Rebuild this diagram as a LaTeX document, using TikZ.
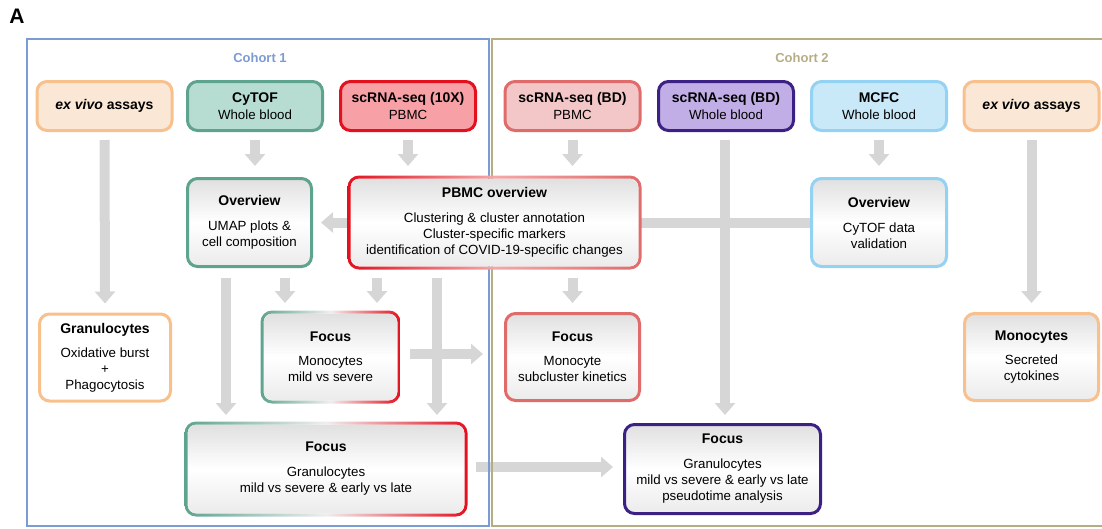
\documentclass[tikz,border=0pt]{standalone}
\usepackage{fontspec}
\setmainfont{Liberation Sans}
\usetikzlibrary{arrows.meta,calc,backgrounds}
\definecolor{orgB}{HTML}{F8C08C}
\definecolor{orgF}{HTML}{FBE7D6}
\definecolor{tealB}{HTML}{5DA38E}
\definecolor{tealF}{HTML}{B7DDD2}
\definecolor{redA}{HTML}{E3101E}
\definecolor{redAF}{HTML}{F7A1A7}
\definecolor{redB}{HTML}{E06B6B}
\definecolor{redBF}{HTML}{F3C7C7}
\definecolor{purB}{HTML}{3B2184}
\definecolor{purF}{HTML}{C2AEE6}
\definecolor{bluB}{HTML}{93D2F2}
\definecolor{bluF}{HTML}{C9E8F8}
\definecolor{cohA}{HTML}{7B9BD3}
\definecolor{cohB}{HTML}{B5AE84}
\definecolor{agrey}{HTML}{D6D6D6}
\definecolor{gTop}{HTML}{E0E0E0}
\definecolor{gBot}{HTML}{EBEBEB}
\definecolor{fadeMid}{HTML}{F0EEEE}
\definecolor{pbmcMid}{HTML}{F2A8A8}
\newcommand\bxttl[1]{{\fontsize{14}{16}\selectfont\bfseries #1}}
\newcommand\gradring[4]{%
  \shade[left color=#2, right color=#4, middle color=#3, even odd rule]
    [rounded corners=11.5pt] ([shift={(-1.5pt,-1.5pt)}]#1.south west) rectangle ([shift={(1.5pt,1.5pt)}]#1.north east)
    [rounded corners=8.5pt] ([shift={(1.5pt,1.5pt)}]#1.south west) rectangle ([shift={(-1.5pt,-1.5pt)}]#1.north east);}
\begin{document}
\begin{tikzpicture}[x=1pt,y=-1pt,
  box/.style={rounded corners=10pt, line width=3pt, align=center, inner sep=0pt,
              font=\fontsize{13.3}{16}\selectfont},
  topbox/.style={box, minimum width=135pt, minimum height=49pt},
  grad/.style={top color=gTop, bottom color=gBot, middle color=white},
  rowtwo/.style={box, grad, minimum height=88pt},
  rowthree/.style={box, minimum width=134pt, minimum height=87pt},
  rowfour/.style={box, grad, minimum height=89pt},
  garrow/.style={draw=agrey, line width=10pt, -{Triangle[width=20pt,length=12pt]}},
  gbar/.style={draw=agrey, line width=10pt},
  cohtxt/.style={font=\fontsize{13}{15}\selectfont\bfseries}]
\useasboundingbox (0,0) rectangle (1102,528);
\clip (0,0) rectangle (1102,528);

% label and cohort titles
\node[font=\fontsize{21}{24}\selectfont\bfseries] (lbl) at (17,16) {A};
\node[cohtxt, text=cohA] (c1t) at (260,58) {Cohort 1};
\node[cohtxt, text=cohB] (c2t) at (802,58) {Cohort 2};

% top row
\node[topbox, draw=orgB, fill=orgF] (exL) at (104.5,106) {\bxttl{\textit{ex vivo} assays}};
\node[topbox, draw=tealB, fill=tealF] (cytof) at (255,106) {\bxttl{CyTOF}\\[1pt]Whole blood};
\node[topbox, draw=redA, fill=redAF] (sc10x) at (408,106) {\bxttl{scRNA-seq (10X)}\\[1pt]PBMC};
\node[topbox, draw=redB, fill=redBF] (scBDp) at (572.5,106) {\bxttl{scRNA-seq (BD)}\\[1pt]PBMC};
\node[topbox, draw=purB, fill=purF] (scBDw) at (726,106) {\bxttl{scRNA-seq (BD)}\\[1pt]Whole blood};
\node[topbox, draw=bluB, fill=bluF] (mcfc) at (879,106) {\bxttl{MCFC}\\[1pt]Whole blood};
\node[topbox, draw=orgB, fill=orgF] (exR) at (1031.5,106) {\bxttl{\textit{ex vivo} assays}};

% second row
\node[rowtwo, draw=tealB, minimum width=124pt] (ovA) at (249.5,222.5)
  {\bxttl{Overview}\\[9pt]UMAP plots \&\\cell composition};
\node[rowtwo, minimum width=288pt] (pbmc) at (494.5,222.5)
  {\bxttl{PBMC overview}\\[9pt]Clustering \& cluster annotation\\Cluster-specific markers\\identification of COVID-19-specific changes};
\gradring{pbmc}{redA}{pbmcMid}{redB}
\node[rowtwo, draw=bluB, minimum width=135pt] (ovB) at (879,222.5)
  {\bxttl{Overview}\\[9pt]CyTOF data\\validation};

% third row
\node[rowthree, draw=orgB, fill=white, minimum width=131pt] (granL) at (105,357.5)
  {\bxttl{Granulocytes}\\[8pt]Oxidative burst\\+\\Phagocytosis};
\node[rowthree, grad] (focM) at (330.5,357)
  {\bxttl{Focus}\\[8pt]Monocytes\\mild vs severe};
\gradring{focM}{tealB}{fadeMid}{redA}
\node[rowthree, grad, draw=redB] (focSub) at (572.5,357)
  {\bxttl{Focus}\\[8pt]Monocyte\\subcluster kinetics};
\node[rowthree, grad, draw=orgB] (monoR) at (1031.5,357)
  {\bxttl{Monocytes}\\[8pt]Secreted\\cytokines};

% fourth row
\node[rowfour, minimum width=277pt] (focG1) at (326,469)
  {\bxttl{Focus}\\[9pt]Granulocytes\\mild vs severe \& early vs late};
\gradring{focG1}{tealB}{fadeMid}{redA}
\node[rowfour, draw=purB, minimum width=196pt] (focG2) at (722.5,469)
  {\bxttl{Focus}\\[9pt]Granulocytes\\mild vs severe \& early vs late\\pseudotime analysis};

\begin{scope}[on background layer]
  % arrows from the top row
  \draw[garrow] ([yshift=-8pt]exL.south) -- ([yshift=9pt]granL.north);
  \draw[garrow] ([yshift=-8pt]cytof.south) -- ($(cytof.south |- ovA.north)+(0,11pt)$);
  \draw[garrow] ([yshift=-8pt]sc10x.south) -- ($(sc10x.south |- pbmc.north)+(0,11pt)$);
  \draw[garrow] ([yshift=-8pt]scBDp.south) -- ($(scBDp.south |- pbmc.north)+(0,11pt)$);
  \draw[garrow] ([yshift=-8pt]mcfc.south) -- ($(mcfc.south |- ovB.north)+(0,11pt)$);
  \draw[garrow] ([yshift=-8pt]exR.south) -- ([yshift=9pt]monoR.north);
  \draw[garrow] ([xshift=-1pt,yshift=-8pt]scBDw.south) -- ($(scBDw.south |- focG2.north)+(-1pt,8pt)$);
  % horizontal links of the second row
  \draw[garrow] (pbmc.west) -- ([xshift=8pt]ovA.east);
  \draw[gbar] (pbmc.east) -- (ovB.west);
  % arrows from the second row
  \coordinate (a1) at ($(ovA.south)+(-23.5pt,-10pt)$);
  \coordinate (a2) at ($(ovA.south)+(35.5pt,-10pt)$);
  \coordinate (a3) at ($(pbmc.south)+(-117.5pt,-10pt)$);
  \coordinate (a4) at ($(pbmc.south)+(-57.5pt,-10pt)$);
  \coordinate (a5) at ($(focSub.north |- pbmc.south)+(0,-10pt)$);
  \draw[garrow] (a1) -- ($(a1 |- focG1.north)+(0,8pt)$);
  \draw[garrow] (a2) -- ($(a2 |- focM.north)+(0,9pt)$);
  \draw[garrow] (a3) -- ($(a3 |- focM.north)+(0,9pt)$);
  \draw[garrow] (a4) -- ($(a4 |- focG1.north)+(0,8pt)$);
  \draw[garrow] (a5) -- ($(focSub.north)+(0,9pt)$);
  % arrows between cohorts
  \draw[garrow] ([xshift=11pt,yshift=3pt]focM.east) -- ([xshift=-21pt,yshift=3pt]focSub.west);
  \draw[garrow] ([xshift=10pt,yshift=2pt]focG1.east) -- ([xshift=-10pt,yshift=2pt]focG2.west);
  % cohort frames
  \draw[cohA, line width=2.5pt] (27,39) rectangle (489,526);
  \draw[cohB, line width=2.5pt] (492,39) rectangle (1110,526);
\end{scope}
\end{tikzpicture}
\end{document}
